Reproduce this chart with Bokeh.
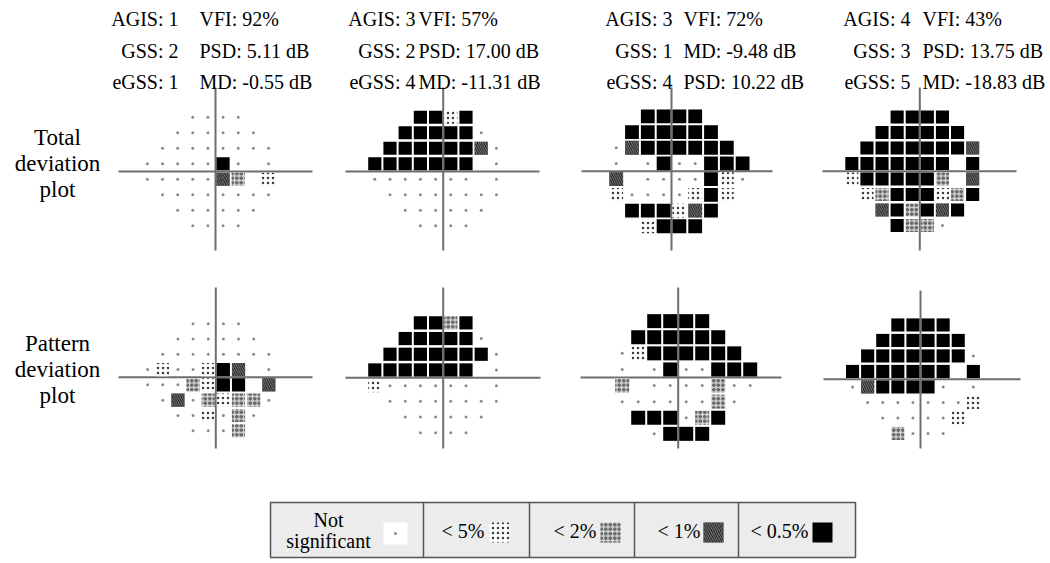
from bokeh.plotting import figure
from bokeh.models import ColumnDataSource, Range1d
from bokeh.embed import file_html
from bokeh.resources import INLINE
from bokeh.core.properties import value

# ---------------- data ----------------
AGIS = [1, 3, 3, 4]
GSS = [2, 2, 1, 3]
EGSS = [1, 4, 4, 5]
VFI = [92, 57, 72, 43]
PSD = [5.11, 17.00, 10.22, 13.75]
MD = [-0.55, -11.31, -9.48, -18.83]
INDEX_ORDER = [["VFI", "PSD", "MD"], ["VFI", "PSD", "MD"],
               ["VFI", "MD", "PSD"], ["VFI", "PSD", "MD"]]

# test locations (degrees) of the 24-2 grid, columns / rows
X_DEG = [-27, -21, -15, -9, -3, 3, 9, 15, 21, 27]
Y_DEG = [21, 15, 9, 3, -3, -9, -15, -21]

# '.' not significant, '5' p<5%, '2' p<2%, '1' p<1%, 'X' p<0.5%, ' ' no point
TD_GRIDS = [
    ["   ....   ",
     "  ......  ",
     " ........ ",
     ".....X. . ",
     ".....12 5 ",
     " ........ ",
     "  ......  ",
     "   ....   "],
    ["   XX5X   ",
     "  XXXXX.  ",
     " XXXXXX1. ",
     "XXXXXXX . ",
     "....... . ",
     " ........ ",
     "  ......  ",
     "   ....   "],
    ["   XXXX   ",
     "  XXXXXX  ",
     " .1XXXXXX ",
     " . .X..XXX",
     " 1 ....X5.",
     " 5....5X5 ",
     "  XXX51X  ",
     "   5XXX   "],
    ["   XXXX   ",
     "  XXXXXX  ",
     " XXXXXXX1 ",
     "XXXXXXX X ",
     "5XXXXX2 1 ",
     " 52XXX52X ",
     "  1X2X1X  ",
     "   X22.   "],
]
PD_GRIDS = [
    ["   ....   ",
     "  ......  ",
     " ........ ",
     ".5..5X1 . ",
     "...25XX 1 ",
     " .1.2522. ",
     "  ..5.2.  ",
     "   ...2   "],
    ["   XX2X   ",
     "  XXXXX.  ",
     " XXXXXXX. ",
     "XXXXXXX . ",
     "5...... . ",
     " ........ ",
     "  ......  ",
     "   ....   "],
    ["   XXXX   ",
     "  XXXXXX  ",
     " .5XXXXXX ",
     " . .X..XXX",
     " 2 ....2..",
     " ......2. ",
     "  XXX.2X  ",
     "   .XXX   "],
    ["   XXXX   ",
     "  XXXXXX  ",
     " XXXXXXX. ",
     "XXXXXXX X ",
     ".1XXXX. . ",
     " .......5 ",
     "  .....5  ",
     "   2...   "],
]
ROW_LABELS = [["Total", "deviation", "plot"], ["Pattern", "deviation", "plot"]]
LEGEND_CODES = [".", "5", "2", "1", "X"]
LEGEND_LABELS = ["Not significant", "< 5%", "< 2%", "< 1%", "< 0.5%"]

# ---------------- layout / style ----------------
SERIF = value("Liberation Serif")
TD_LAYOUT = [dict(cx=215.0, cy=171.0, sx=15.15, sy=15.5, h=(118, 312), v=(87, 250)),
             dict(cx=442.7, cy=171.0, sx=15.2, sy=15.5, h=(345, 539), v=(87, 250)),
             dict(cx=671.0, cy=170.8, sx=15.8, sy=15.7, h=(581, 772), v=(87, 250)),
             dict(cx=919.3, cy=170.8, sx=15.1, sy=15.5, h=(822, 1016), v=(87, 250))]
PD_LAYOUT = [dict(cx=215.3, cy=376.7, sx=15.15, sy=15.3, h=(118, 312), v=(287, 448)),
             dict(cx=442.7, cy=377.3, sx=15.2, sy=15.7, h=(345, 540), v=(287, 448)),
             dict(cx=677.7, cy=377.0, sx=16.0, sy=16.1, h=(580, 781), v=(287, 448)),
             dict(cx=920.0, cy=378.7, sx=15.1, sy=15.5, h=(823, 1020), v=(290, 448))]

STYLE = {
    "5": dict(fill_color="white", hatch_pattern="dot", hatch_scale=5,
              hatch_weight=1.4, hatch_color="#3a3a3a"),
    "2": dict(fill_color="#d0d0d0", hatch_pattern="ring", hatch_scale=4.5,
              hatch_weight=1.0, hatch_color="#2a2a2a"),
    "1": dict(fill_color="#111111", hatch_pattern="left_diagonal_line", hatch_scale=4.5,
              hatch_weight=1.0, hatch_color="#8a8a8a"),
    "X": dict(fill_color="black"),
}
DOT_COLOR = "#8c8c8c"

W, H = 1046, 560
p = figure(width=W, height=H, x_range=Range1d(0, W), y_range=Range1d(H, 0),
           output_backend="svg", toolbar_location=None, min_border=0)
p.axis.visible = False
p.grid.visible = False
p.outline_line_color = None
p.background_fill_color = "white"

cells = {k: dict(x=[], y=[], w=[]) for k in STYLE}
dots = dict(x=[], y=[])
hx0, hx1, hy, vy0, vy1, vx = [], [], [], [], [], []

for grids, layout in ((TD_GRIDS, TD_LAYOUT), (PD_GRIDS, PD_LAYOUT)):
    for grid, L in zip(grids, layout):
        for r, row in enumerate(grid):
            for c, code in enumerate(row):
                if code == " ":
                    continue
                x = L["cx"] + X_DEG[c] / 6.0 * L["sx"]
                y = L["cy"] - Y_DEG[r] / 6.0 * L["sy"]
                if code == ".":
                    dots["x"].append(x)
                    dots["y"].append(y)
                else:
                    cells[code]["x"].append(x)
                    cells[code]["y"].append(y)
                    cells[code]["w"].append(L["sx"] - 2.0)
        hx0.append(L["h"][0]); hx1.append(L["h"][1]); hy.append(L["cy"])
        vx.append(L["cx"]); vy0.append(L["v"][0]); vy1.append(L["v"][1])

# axes of each plot
p.segment(x0=hx0, x1=hx1, y0=hy, y1=hy, line_color="#6e6e6e", line_width=2)
p.segment(x0=vx, x1=vx, y0=vy0, y1=vy1, line_color="#6e6e6e", line_width=2)

for code, st in STYLE.items():
    src = ColumnDataSource(cells[code])
    p.rect(x="x", y="y", width="w", height="w", source=src, line_color=None, **st)
p.scatter(x=dots["x"], y=dots["y"], size=3, color=DOT_COLOR, line_color=None)

# header texts
LAB_RIGHT = [178, 415, 672, 910]
VAL_LEFT = [199, 418, 683, 922]
BASELINES = [18.5, 50, 81.5]
for i in range(4):
    vals = {"VFI": f"VFI: {VFI[i]}%", "PSD": f"PSD: {PSD[i]:.2f} dB", "MD": f"MD: {MD[i]:.2f} dB"}
    labs = [f"AGIS: {AGIS[i]}", f"GSS: {GSS[i]}", f"eGSS: {EGSS[i]}"]
    p.text(x=[LAB_RIGHT[i]] * 3, y=BASELINES, text=labs, text_align="right",
           text_baseline="alphabetic", text_font=SERIF, text_font_size="20px", text_color="black")
    p.text(x=[VAL_LEFT[i]] * 3, y=BASELINES, text=[vals[k] for k in INDEX_ORDER[i]],
           text_align="left", text_baseline="alphabetic", text_font=SERIF,
           text_font_size="20px", text_color="black")

# row labels
for lines, ys in zip(ROW_LABELS, ([137, 163, 189], [343, 369, 395])):
    p.text(x=[57] * 3, y=ys, text=lines, text_align="center", text_baseline="middle",
           text_font=SERIF, text_font_size="23px", text_color="black")

# legend box
LEG_X = [270, 423, 529, 634, 738, 855]
LEG_TOP, LEG_BOT = 502, 557
p.quad(left=[LEG_X[0]], right=[LEG_X[-1]], top=[LEG_TOP], bottom=[LEG_BOT],
       fill_color="#ececec", line_color="#555555", line_width=1.5)
p.segment(x0=LEG_X[1:-1], x1=LEG_X[1:-1], y0=[LEG_TOP] * 4, y1=[LEG_BOT] * 4,
          line_color="#555555", line_width=1.5)
# not significant cell
p.text(x=[328, 328], y=[519, 540], text=LEGEND_LABELS[0].split(" "), text_align="center",
       text_baseline="middle", text_font=SERIF, text_font_size="20px", text_color="black")
p.rect(x=[395], y=[533], width=24, height=22, fill_color="white", line_color=None)
p.scatter(x=[395], y=[533], size=3, color=DOT_COLOR, line_color=None)
TXT_RIGHT = [484, 596, 700, 808]
SQ_X = [499, 610, 713, 822]
for code, lab, tx, sqx in zip(LEGEND_CODES[1:], LEGEND_LABELS[1:], TXT_RIGHT, SQ_X):
    p.text(x=[tx], y=[530], text=[lab], text_align="right", text_baseline="middle",
           text_font=SERIF, text_font_size="20px", text_color="black")
    p.rect(x=[sqx], y=[532], width=20, height=20, line_color=None, **STYLE[code])

open("out.html", "w").write(file_html(p, INLINE))
